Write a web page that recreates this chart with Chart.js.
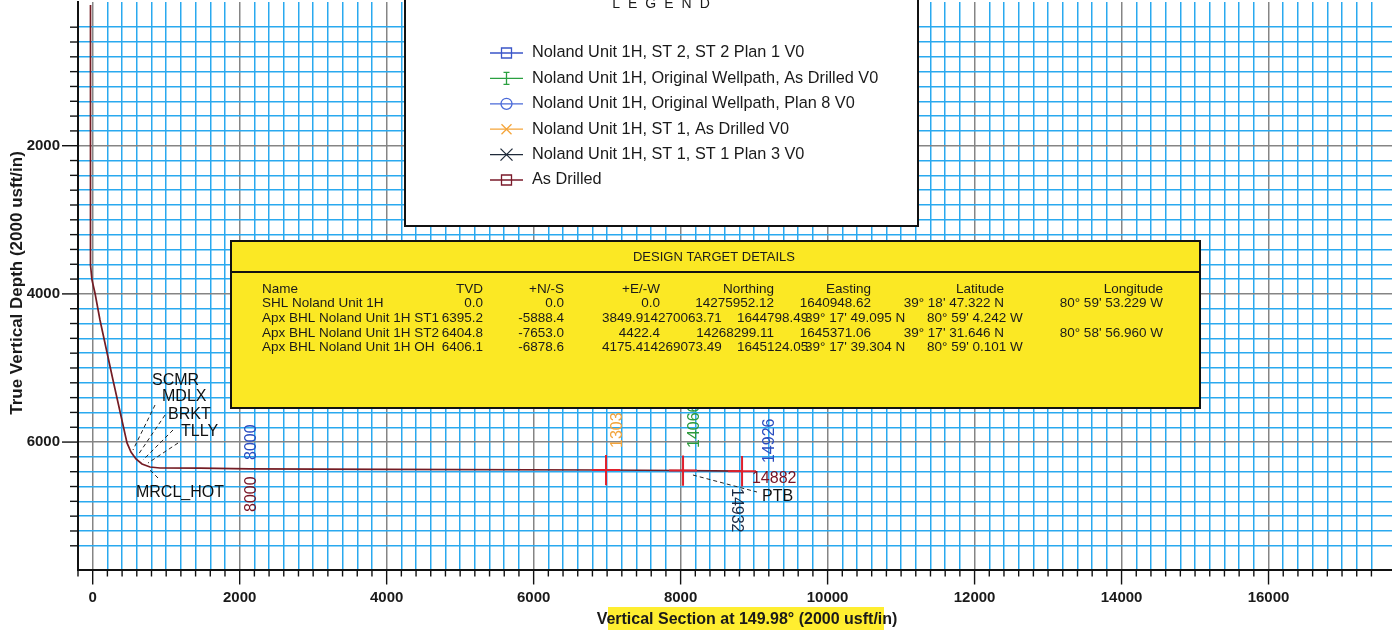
<!DOCTYPE html>
<html lang="en">
<head>
<meta charset="UTF-8" />
<title>Vertical Section</title>
<script src="https://cdn.jsdelivr.net/npm/chart.js"></script>
<style>
  body { margin: 0; background: #fff; }
  canvas { display: block; }
</style>
</head>
<body>
<canvas id="vs" width="1392" height="630"></canvas>
<script>
// as drilled well path: vertical section (usft) vs true vertical depth (usft)
const pathVS  = [-30, -30, -10, 31, 99, 276, 467, 521, 589, 671, 780, 916, 1460, 2140, 4000, 6900, 8030, 8840];
const pathTVD = [100, 3610, 3812, 3988, 4352, 5162, 6012, 6134, 6228, 6296, 6337, 6350, 6352, 6362, 6368, 6377, 6384, 6392];

// target crosses along the lateral
const targetVS  = [6985, 8033, 8836];
const targetTVD = [6378, 6385, 6393];

// formation tops
const formations = ['SCMR', 'MDLX', 'BRKT', 'TLLY', 'MRCL_HOT'];
const formLabelVS  = [807, 943, 1025, 1202, 589];
const formLabelTVD = [5176, 5392, 5635, 5864, 6688];
const formFrom = [[848, 5500], [984, 5635], [1093, 5837], [1161, 6013], [889, 6485]];
const formTo   = [[548, 6107], [616, 6175], [684, 6242], [752, 6283], [780, 6377]];

// measured depth callouts
const mdText  = ['8000', '8000', '1303', '14066', '14926', '14932', '14882', 'PTB'];
const mdVS    = [2168, 2168, 7148, 8196, 9216, 8753, 8971, 9107];
const mdTVD   = [6242, 6944, 6080, 6080, 6283, 6620, 6499, 6742];
const mdRot   = [-90, -90, -90, -90, -90, 90, 0, 0];
const mdColor = ['#2a4cc0', '#7a1424', '#f2a43c', '#2c9a3c', '#2a4cc0', '#1c2a44', '#7a1424', '#111'];
const ptbFrom = [8168, 6445], ptbTo = [9039, 6674];

// legend
const legendNames = [
  'Noland Unit 1H, ST 2, ST 2 Plan 1 V0',
  'Noland Unit 1H, Original Wellpath, As Drilled V0',
  'Noland Unit 1H, Original Wellpath, Plan 8 V0',
  'Noland Unit 1H, ST 1, As Drilled V0',
  'Noland Unit 1H, ST 1, ST 1 Plan 3 V0',
  'As Drilled'
];
const legendColors  = ['#3a55c8', '#2aa040', '#4a6ad8', '#f5a53a', '#1f2a3a', '#7a1a2a'];
const legendMarkers = ['square', 'ibeam', 'circle', 'star', 'cross', 'square'];

// design target table
const tableHeader = ['Name', 'TVD', '+N/-S', '+E/-W', 'Northing', 'Easting', 'Latitude', 'Longitude'];
const tableRows = [
  ['SHL Noland Unit 1H', '0.0', '0.0', '0.0', '14275952.12', '1640948.62', "39° 18' 47.322 N", "80° 59' 53.229 W"],
  ['Apx BHL Noland Unit 1H ST1', '6395.2', '-5888.4', '3849.9', '14270063.71', '1644798.49', "39° 17' 49.095 N", "80° 59' 4.242 W"],
  ['Apx BHL Noland Unit 1H ST2', '6404.8', '-7653.0', '4422.4', '14268299.11', '1645371.06', "39° 17' 31.646 N", "80° 58' 56.960 W"],
  ['Apx BHL Noland Unit 1H OH', '6406.1', '-6878.6', '4175.4', '14269073.49', '1645124.05', "39° 17' 39.304 N", "80° 59' 0.101 W"]
];

const FONT = '"Liberation Sans", Arial, sans-serif';

// table layout (pixels)
const colX     = [262, 483, 564, 660, 774, 871, 1004, 1163];
const colAlign = ['left', 'right', 'right', 'right', 'right', 'right', 'right', 'right'];
const flowX    = [null, 483, 564, 602, 643, 737, 805, 927];   // rows whose cells run together
const flowRows = [1, 3];
const rowY     = [289.5, 303.5, 318, 333, 347.5];

const gridColor = c => {
  const v = c.tick ? c.tick.value : NaN;
  if (v % 200 !== 0) return 'rgba(0,0,0,0)';
  return v % 2000 === 0 ? '#858585' : '#2aa9ef';
};

// keep the plot box fixed: no extra room for the edge tick labels
const fixBox = (w, h) => s => {
  if (w) s.width = w;
  if (h) s.height = h;
  s.paddingTop = 0; s.paddingBottom = 0; s.paddingLeft = 0; s.paddingRight = 0;
};

function drawMarker(ctx, type, cx, cy, color) {
  ctx.strokeStyle = color;
  ctx.lineWidth = 1.3;
  ctx.beginPath();
  if (type === 'square') {
    ctx.rect(cx - 5, cy - 5, 10, 10);
  } else if (type === 'circle') {
    ctx.arc(cx, cy, 5.5, 0, Math.PI * 2);
  } else if (type === 'ibeam') {
    ctx.moveTo(cx, cy - 6); ctx.lineTo(cx, cy + 6);
    ctx.moveTo(cx - 3, cy - 6); ctx.lineTo(cx + 3, cy - 6);
    ctx.moveTo(cx - 3, cy + 6); ctx.lineTo(cx + 3, cy + 6);
  } else if (type === 'star') {
    ctx.moveTo(cx - 5, cy - 5); ctx.lineTo(cx + 5, cy + 5);
    ctx.moveTo(cx - 5, cy + 5); ctx.lineTo(cx + 5, cy - 5);
  } else if (type === 'cross') {
    ctx.moveTo(cx - 6, cy - 6); ctx.lineTo(cx + 6, cy + 6);
    ctx.moveTo(cx - 6, cy + 6); ctx.lineTo(cx + 6, cy - 6);
  }
  ctx.stroke();
}

const overlay = {
  id: 'overlay',
  afterDraw(chart) {
    const { ctx, chartArea: ca, scales: { x, y } } = chart;
    const X = v => x.getPixelForValue(v);
    const Y = v => y.getPixelForValue(v);
    ctx.save();

    // tick marks outside the plot
    ctx.strokeStyle = '#111';
    ctx.lineWidth = 1.4;
    x.ticks.forEach(t => {
      if (t.value % 200 !== 0) return;
      const p = X(t.value), len = t.value % 2000 === 0 ? 15 : 7;
      ctx.beginPath(); ctx.moveTo(p, ca.bottom); ctx.lineTo(p, ca.bottom + len); ctx.stroke();
    });
    y.ticks.forEach(t => {
      if (t.value % 200 !== 0) return;
      const p = Y(t.value), len = t.value % 2000 === 0 ? 16 : 8;
      ctx.beginPath(); ctx.moveTo(ca.left, p); ctx.lineTo(ca.left - len, p); ctx.stroke();
    });

    // axis titles
    ctx.fillStyle = '#ffee30';
    ctx.fillRect(608, 607, 276, 23);
    ctx.fillStyle = '#1a1a1a';
    ctx.font = 'bold 16px ' + FONT;
    ctx.textAlign = 'center';
    ctx.textBaseline = 'middle';
    ctx.fillText('Vertical Section at 149.98° (2000 usft/in)', 747, 620);
    ctx.save();
    ctx.translate(17, 283);
    ctx.rotate(-Math.PI / 2);
    ctx.font = 'bold 17px ' + FONT;
    ctx.fillText('True Vertical Depth (2000 usft/in)', 0, 0);
    ctx.restore();

    // target crosses
    ctx.strokeStyle = '#e0202c';
    ctx.lineWidth = 2;
    targetVS.forEach((v, i) => {
      ctx.beginPath();
      ctx.moveTo(X(v - 190), Y(targetTVD[i])); ctx.lineTo(X(v + 190), Y(targetTVD[i]));
      ctx.moveTo(X(v), Y(targetTVD[i] - 205)); ctx.lineTo(X(v), Y(targetTVD[i] + 205));
      ctx.stroke();
    });

    // formation tops
    ctx.strokeStyle = '#222';
    ctx.lineWidth = 1;
    ctx.setLineDash([4, 3]);
    formations.forEach((f, i) => {
      ctx.beginPath();
      ctx.moveTo(X(formFrom[i][0]), Y(formFrom[i][1]));
      ctx.lineTo(X(formTo[i][0]), Y(formTo[i][1]));
      ctx.stroke();
    });
    ctx.beginPath();
    ctx.moveTo(X(ptbFrom[0]), Y(ptbFrom[1]));
    ctx.lineTo(X(ptbTo[0]), Y(ptbTo[1]));
    ctx.stroke();
    ctx.setLineDash([]);
    ctx.font = '16px ' + FONT;
    ctx.fillStyle = '#111';
    ctx.textAlign = 'left';
    ctx.textBaseline = 'middle';
    formations.forEach((f, i) => ctx.fillText(f, X(formLabelVS[i]), Y(formLabelTVD[i])));

    // measured depth callouts
    mdText.forEach((t, i) => {
      ctx.save();
      ctx.translate(X(mdVS[i]), Y(mdTVD[i]));
      ctx.rotate(mdRot[i] * Math.PI / 180);
      ctx.fillStyle = mdColor[i];
      ctx.fillText(t, 0, 0);
      ctx.restore();
    });

    // design target details box
    ctx.fillStyle = '#fbe824';
    ctx.fillRect(231, 241, 969, 167);
    ctx.strokeStyle = '#111';
    ctx.lineWidth = 2;
    ctx.strokeRect(231, 241, 969, 167);
    ctx.beginPath(); ctx.moveTo(231, 272); ctx.lineTo(1200, 272); ctx.stroke();
    ctx.fillStyle = '#1a1a1a';
    ctx.font = '13px ' + FONT;
    ctx.textAlign = 'center';
    ctx.fillText('DESIGN TARGET DETAILS', 714, 257);
    ctx.font = '13.5px ' + FONT;
    tableHeader.forEach((h, c) => {
      ctx.textAlign = colAlign[c];
      ctx.fillText(h, colX[c], rowY[0]);
    });
    tableRows.forEach((row, r) => {
      const flow = flowRows.includes(r);
      row.forEach((cell, c) => {
        if (flow && c >= 3) {
          ctx.textAlign = 'left';
          ctx.fillText(cell, flowX[c], rowY[r + 1]);
        } else {
          ctx.textAlign = colAlign[c];
          ctx.fillText(cell, colX[c], rowY[r + 1]);
        }
      });
    });

    // legend box
    ctx.fillStyle = '#fff';
    ctx.fillRect(405, -5, 513, 231);
    ctx.strokeStyle = '#111';
    ctx.lineWidth = 2;
    ctx.strokeRect(405, -5, 513, 231);
    ctx.fillStyle = '#1a1a1a';
    ctx.font = '14px ' + FONT;
    ctx.textAlign = 'center';
    ctx.letterSpacing = '8px';
    ctx.fillText('LEGEND', 665, 4);
    ctx.letterSpacing = '0px';
    ctx.font = '16.3px ' + FONT;
    ctx.textAlign = 'left';
    legendNames.forEach((name, i) => {
      const ly = 53 + i * 25.4;
      ctx.strokeStyle = legendColors[i];
      ctx.lineWidth = 1.3;
      ctx.beginPath(); ctx.moveTo(490, ly); ctx.lineTo(523, ly); ctx.stroke();
      drawMarker(ctx, legendMarkers[i], 506.5, ly, legendColors[i]);
      ctx.fillStyle = '#1a1a1a';
      ctx.fillText(name, 532, ly);
    });

    ctx.restore();
  }
};

new Chart(document.getElementById('vs'), {
  type: 'scatter',
  data: {
    datasets: [{
      label: 'As Drilled',
      data: pathVS.map((v, i) => ({ x: v, y: pathTVD[i] })),
      showLine: true,
      borderColor: '#741c24',
      borderWidth: 1.7,
      pointRadius: 0,
      tension: 0
    }]
  },
  options: {
    responsive: false,
    animation: false,
    layout: { padding: { top: 2, left: 0, right: 0, bottom: 0 } },
    plugins: { legend: { display: false }, tooltip: { enabled: false } },
    scales: {
      x: {
        type: 'linear',
        min: -200,
        max: 17680,
        afterFit: fixBox(0, 60.5),
        border: { display: true, color: '#111', width: 2 },
        grid: { color: gridColor, lineWidth: 1.5, drawTicks: false },
        ticks: {
          stepSize: 200,
          autoSkip: false,
          maxRotation: 0,
          padding: 19,
          color: '#1a1a1a',
          font: { family: FONT, size: 15, weight: 'bold' },
          callback: v => (v % 2000 === 0 ? String(v) : '')
        }
      },
      y: {
        type: 'linear',
        reverse: true,
        min: 60,
        max: 7720,
        afterFit: fixBox(78, 0),
        border: { display: true, color: '#111', width: 2 },
        grid: { color: gridColor, lineWidth: 1.5, drawTicks: false },
        ticks: {
          stepSize: 200,
          autoSkip: false,
          padding: 18,
          color: '#1a1a1a',
          font: { family: FONT, size: 15, weight: 'bold' },
          callback: v => (v % 2000 === 0 ? String(v) : '')
        }
      }
    }
  },
  plugins: [overlay]
});
</script>
</body>
</html>
